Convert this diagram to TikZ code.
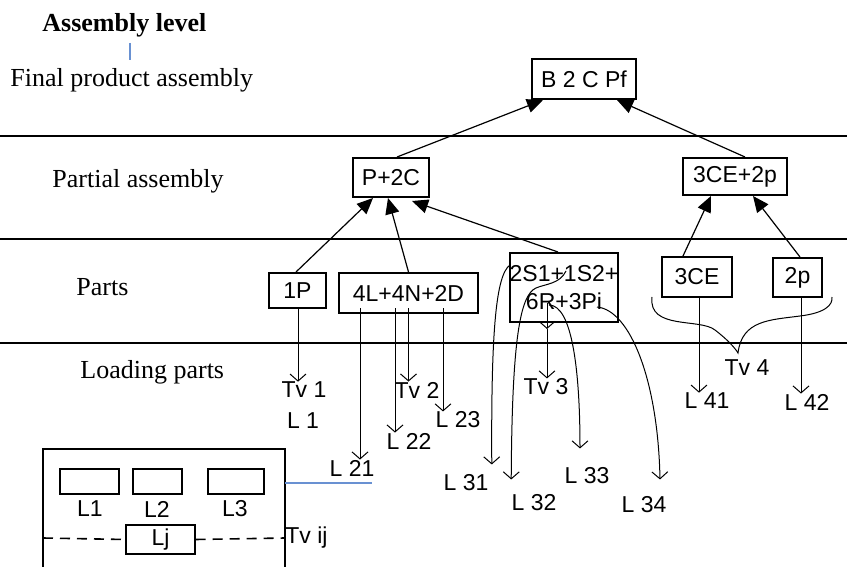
\documentclass[tikz,border=0pt]{standalone}
\usepackage{fontspec}
\setmainfont{Liberation Serif}
\setsansfont{Liberation Sans}
\usetikzlibrary{arrows.meta}
\definecolor{thinblue}{RGB}{105,145,210}

\begin{document}
\begin{tikzpicture}[
    x=0.5pt, y=-0.5pt,
    lvl/.style={font=\fontsize{13}{15}\selectfont, anchor=base west, inner sep=0pt},
    pbox/.style={draw, line width=1pt, inner sep=0pt, align=center,
                 font=\sffamily\fontsize{11.5}{14}\selectfont},
    lbl/.style={inner sep=0pt, font=\sffamily\fontsize{11.5}{13}\selectfont},
    sbox/.style={draw, line width=0.6pt, inner sep=0pt},
    up/.style={-{Triangle[length=8pt,width=7pt]}, line width=0.6pt},
    arr/.style={-{Straight Barb[length=3.5pt,width=8pt]}, line width=0.5pt},
  ]
  \useasboundingbox (0,0) rectangle (847,567);

  % --- Levels ---
  \node[lvl, font=\bfseries\fontsize{13}{15}\selectfont] (hdr) at (42,32) {Assembly level};
  \draw[thinblue, line width=0.6pt] (130,43) -- (130,60);
  \node[lvl] (lv1) at (10,87) {Final product assembly};
  \node[lvl] (lv2) at (52,188) {Partial assembly};
  \node[lvl] (lv3) at (76,295) {Parts};
  \node[lvl] (lv4) at (80,378) {Loading parts};
  \draw[line width=0.6pt] (0,136) -- (847,136);
  \draw[line width=0.6pt] (0,239) -- (847,239);
  \draw[line width=0.6pt] (0,343) -- (847,343);

  % --- Boxes ---
  \node[pbox, minimum width=52pt, minimum height=20pt] (top) at (584,79) {B 2 C Pf};
  \node[pbox, minimum width=38pt, minimum height=19.5pt] (pc) at (391,177.5) {P+2C};
  \node[pbox, minimum width=52pt, minimum height=18.5pt] (cep) at (735,176.5) {3CE+2p};
  \node[pbox, minimum width=28.5pt, minimum height=17.5pt] (p1) at (297.5,290.5) {1P};
  \node[pbox, minimum width=69.5pt, minimum height=20pt] (lnd) at (408.5,293) {4L+4N+2D};
  \node[pbox, minimum width=52pt, minimum height=34.5pt] (sr) at (564,287.5) {2S1+1S2+\\6R+3Pi};
  \node[pbox, minimum width=35pt, minimum height=20pt] (ce) at (697,277) {3CE};
  \node[pbox, minimum width=24.5pt, minimum height=19.5pt] (p2) at (797.5,277.5) {2p};

  \draw[up] ([xshift=3pt]pc.north) -- ([xshift=-20.5pt]top.south);
  \draw[up] ([xshift=5pt]cep.north) -- ([xshift=16.5pt]top.south);
  \draw[up] ([xshift=-0.75pt]p1.north) -- ([xshift=-9pt]pc.south);
  \draw[up] (lnd.north) -- ([xshift=-1.5pt]pc.south);
  \draw[up] ([xshift=-3pt]sr.north) -- ([xshift=10.5pt,yshift=-1.5pt]pc.south);
  \draw[up] ([xshift=-7pt]ce.north) -- ([xshift=-12pt]cep.south);
  \draw[up] ([xshift=1.25pt]p2.north) -- ([xshift=9pt]cep.south);

  % --- Loading parts ---
  \node[lbl] (tv1) at (304,390) {Tv 1};
  \node[lbl] (l1) at (303,421) {L 1};
  \node[lbl] (tv2) at (417,390) {Tv 2};
  \node[lbl] (l21) at (352,468) {L 21};
  \node[lbl] (l22) at (409,441) {L 22};
  \node[lbl] (l23) at (458,420) {L 23};
  \node[lbl] (tv3) at (546,387) {Tv 3};
  \node[lbl] (l31) at (466,483) {L 31};
  \node[lbl] (l32) at (534,503) {L 32};
  \node[lbl] (l33) at (587,476) {L 33};
  \node[lbl] (l34) at (644,505) {L 34};
  \node[lbl] (tv4) at (747,368) {Tv 4};
  \node[lbl] (l41) at (707,401) {L 41};
  \node[lbl] (l42) at (807,402) {L 42};

  \coordinate (a1) at ([xshift=0.25pt]p1.south);
  \coordinate (a21) at ([xshift=-24.25pt,yshift=3pt]lnd.south);
  \coordinate (a22) at ([xshift=-6.75pt,yshift=3pt]lnd.south);
  \coordinate (a2) at ([yshift=3pt]lnd.south);
  \coordinate (a23) at ([xshift=17.25pt,yshift=3pt]lnd.south);
  \coordinate (a3) at ([xshift=-8.5pt,yshift=10pt]sr.south);
  \coordinate (b3) at ([xshift=-8.5pt,yshift=-3pt]sr.south);
  \coordinate (a41) at ([xshift=1pt]ce.south);
  \coordinate (a42) at ([xshift=1.75pt]p2.south);

  \draw[arr] (a1) -- (a1 |- tv1.north);
  \draw[arr] (a21) -- (a21 |- l21.north);
  \draw[arr] (a22) -- (a22 |- l22.north);
  \draw[arr] (a2) -- (a2 |- tv2.north);
  \draw[arr] (a23) -- (a23 |- l23.north);
  \draw[arr] (a3) -- (b3);
  \draw[arr] (b3) -- (b3 |- tv3.north);
  \draw[arr] (a41) -- (a41 |- l41.north);
  \draw[arr] (a42) -- (a42 |- l42.north);

  % --- Curved links from 2S1+1S2+6R+3Pi ---
  \coordinate (c31) at (510,265);
  \coordinate (c32) at (566,271);
  \coordinate (c33) at (549,305);
  \coordinate (c34) at (597,307);
  \draw[arr] (c31) .. controls (496,275) and (491,330) .. ([xshift=1.5pt,yshift=5pt]l31.north east);
  \draw[arr] (c32) .. controls (560,284) and (545,284) .. (536,288)
                   .. controls (520,295) and (512,340) .. ([yshift=7.5pt]l32.north west);
  \draw[arr] (c33) .. controls (572,305) and (580,370) .. ([xshift=-3.5pt,yshift=9.5pt]l33.north);
  \draw[arr] (c34) .. controls (630,310) and (658,380) .. ([xshift=8pt,yshift=8.5pt]l34.north);

  % --- Brace to Tv 4 ---
  \draw[line width=0.5pt] (652,297) .. controls (648,330) and (700,318) .. (715,330)
        .. controls (728,340) and (735,348) .. (738,353)
        .. controls (742,320) and (770,320) .. (800,316)
        .. controls (825,313) and (833,305) .. (832,297);

  % --- Legend ---
  \draw[line width=1pt] (43,567) -- (43,449) -- (285,449) -- (285,567);
  \node[sbox, minimum width=29.5pt, minimum height=12.5pt] (r1) at (89.5,481.5) {};
  \node[sbox, minimum width=24.5pt, minimum height=12.5pt] (r2) at (157.5,481.5) {};
  \node[sbox, minimum width=28pt, minimum height=12.5pt] (r3) at (236,481.5) {};
  \node[lbl] (t1) at (90,509) {L1};
  \node[lbl] (t2) at (157,509) {L2};
  \node[lbl] (t3) at (235,509) {L3};
  \node[sbox, minimum width=34.5pt, minimum height=14.5pt, font=\sffamily\fontsize{11.5}{13}\selectfont] (lj) at (160.5,539.5) {Lj};
  \draw[dash pattern=on 5pt off 3.5pt, line width=0.8pt] (43,538) -- (lj.west);
  \draw[dash pattern=on 5pt off 3.5pt, line width=0.8pt] (lj.east) -- (285,538);
  \node[lbl, anchor=west] (tvij) at (285,538) {Tv ij};
  \draw[thinblue, line width=0.6pt] (285,483) -- (372,483);

\end{tikzpicture}
\end{document}
